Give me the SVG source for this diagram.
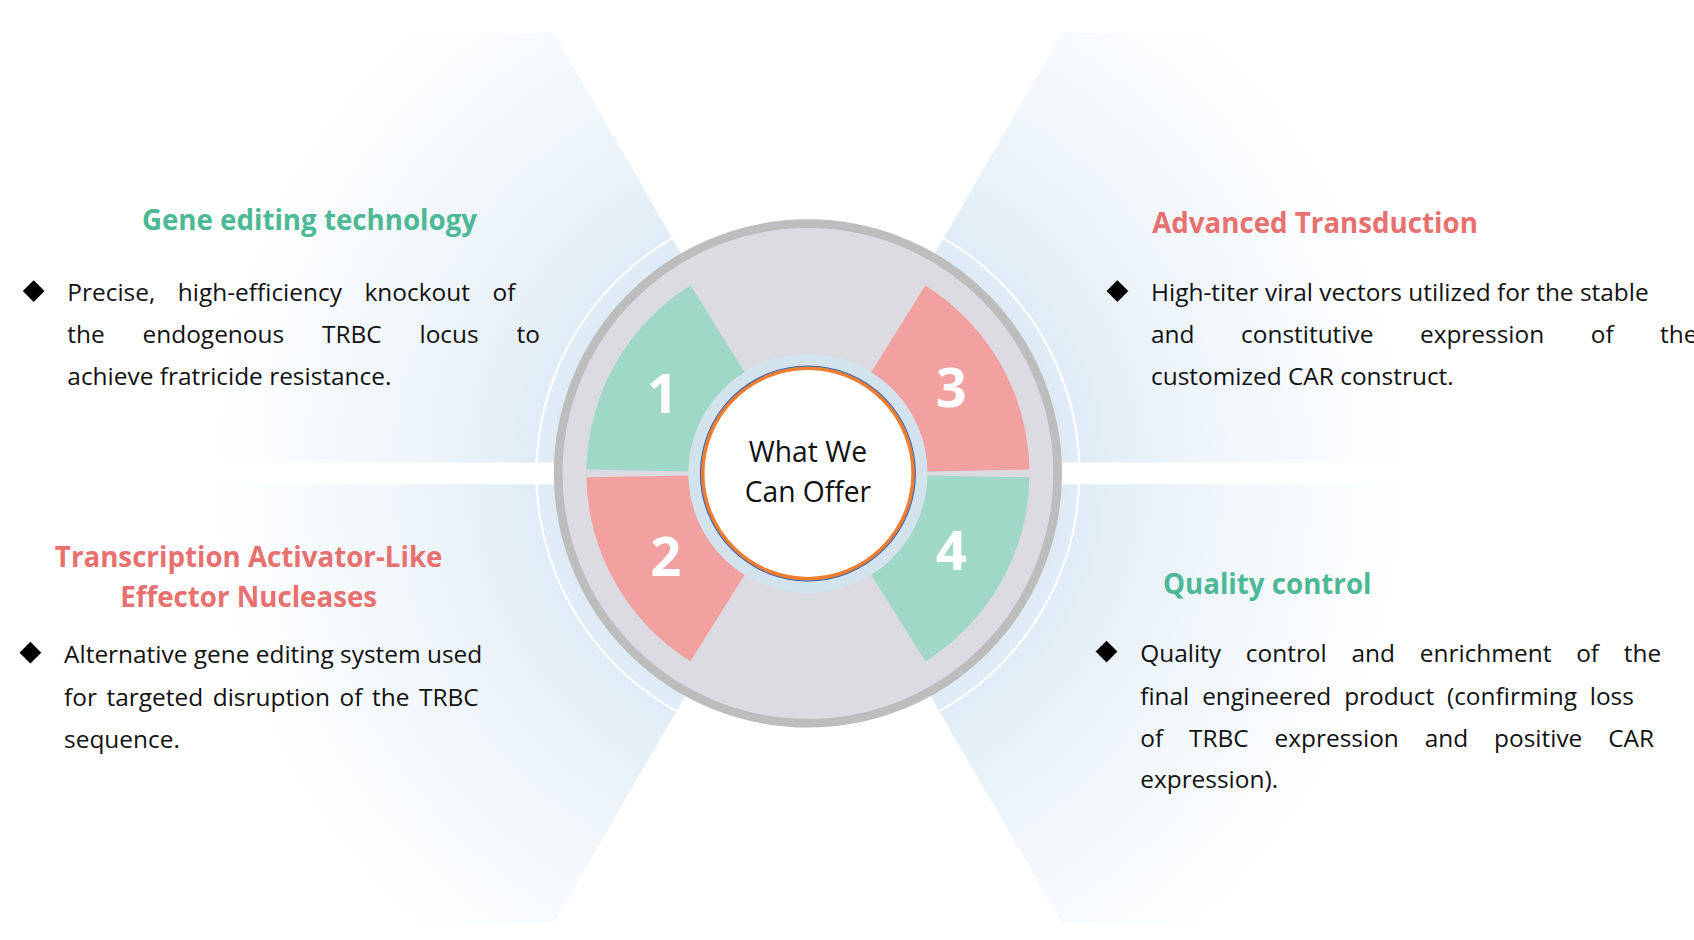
<svg xmlns="http://www.w3.org/2000/svg" width="1694" height="940" viewBox="0 0 1694 940">
<defs>
<radialGradient id="ray" gradientUnits="userSpaceOnUse" cx="744" cy="436" r="560">
<stop offset="0.3" stop-color="#d6e6f2"/>
<stop offset="0.65" stop-color="#eef5fa"/>
<stop offset="1" stop-color="#ffffff"/>
</radialGradient>
<style>
.h{font-family:"Open Sans","Liberation Sans",sans-serif;font-weight:bold;font-size:25.5px;text-anchor:middle}
.g{fill:#4db896}.p{fill:#e8706f}
.b{font-family:"Open Sans","Liberation Sans",sans-serif;font-size:22.5px;fill:#111}
.n{font-family:"Open Sans","Liberation Sans",sans-serif;font-weight:bold;font-size:50px;fill:#fff;text-anchor:middle}
.c{font-family:"Open Sans","Liberation Sans",sans-serif;font-size:26px;fill:#111;text-anchor:middle}
</style>
</defs>
<rect width="1694" height="940" fill="#fff"/>
<g transform="scale(1.0859)">
<g id="rays" fill="url(#ray)">
<polygon points="744,436 510,30 200,30 200,426 744,426"/>
<polygon points="744,446 200,446 200,850 510,850"/>
<polygon points="744,436 978,30 1290,30 1290,426 744,426"/>
<polygon points="744,446 1290,446 1290,850 978,850"/>
</g>
<circle cx="744" cy="436" r="250" fill="none" stroke="#fff" stroke-width="2"/>
<g id="wheel">
<circle cx="744" cy="436" r="230" fill="#dcdbe2" stroke="#bdbdbd" stroke-width="8"/>
<path id="s1" d="M540,432.4 A204 204 0 0 1 635.9,263 L685.7,342.7 A110 110 0 0 0 634,434.1 Z" fill="#9fd8c6"/>
<path id="s2" d="M540,439.6 L634,437.9 A110 110 0 0 0 685.7,529.3 L635.9,609 A204 204 0 0 1 540,439.6 Z" fill="#f2a0a0"/>
<path id="s3" d="M852.1,263 A204 204 0 0 1 948,432.4 L854,434.1 A110 110 0 0 0 802.3,342.7 Z" fill="#f2a0a0"/>
<path id="s4" d="M948,439.6 A204 204 0 0 1 852.1,609 L802.3,529.3 A110 110 0 0 0 854,437.9 Z" fill="#9fd8c6"/>
<text class="n" x="610" y="380">1</text>
<text class="n" x="613" y="530">2</text>
<text class="n" x="876" y="375">3</text>
<text class="n" x="876" y="525">4</text>
</g>
<g id="center">
<circle cx="744" cy="436" r="110" fill="#d3e3ee"/>
<circle cx="744" cy="436" r="97" fill="#fff" stroke="#ed7d31" stroke-width="3.5"/>
<circle cx="744" cy="436" r="99" fill="none" stroke="#3f5fa8" stroke-width="1"/>
<text class="c" x="744" y="425">What We</text>
<text class="c" x="744" y="462">Can Offer</text>
</g>
<g id="n1">
<text class="h g" x="285" y="212">Gene editing technology</text>
<polygon points="31,258 41,268 31,278 21,268" fill="#000"/>
<text class="b" x="62" y="277" word-spacing="15">Precise, high-efficiency knockout of</text>
<text class="b" x="62" y="316" word-spacing="29">the endogenous TRBC locus to</text>
<text class="b" x="62" y="355">achieve fratricide resistance.</text>
</g>
<g id="n2">
<text class="h p" x="229" y="522">Transcription Activator-Like</text>
<text class="h p" x="229" y="559">Effector Nucleases</text>
<polygon points="28,591 38,601 28,611 18,601" fill="#000"/>
<text class="b" x="59" y="611">Alternative gene editing system used</text>
<text class="b" x="59" y="650" word-spacing="3">for targeted disruption of the TRBC</text>
<text class="b" x="59" y="689">sequence.</text>
</g>
<g id="n3">
<text class="h p" x="1211" y="215">Advanced Transduction</text>
<polygon points="1029,258 1039,268 1029,278 1019,268" fill="#000"/>
<text class="b" x="1060" y="277">High-titer viral vectors utilized for the stable</text>
<text class="b" x="1060" y="316" word-spacing="37">and constitutive expression of the</text>
<text class="b" x="1060" y="355">customized CAR construct.</text>
</g>
<g id="n4">
<text class="h g" x="1167" y="547">Quality control</text>
<polygon points="1019,590 1029,600 1019,610 1009,600" fill="#000"/>
<text class="b" x="1050" y="610" word-spacing="17">Quality control and enrichment of the</text>
<text class="b" x="1050" y="649" word-spacing="6">final engineered product (confirming loss</text>
<text class="b" x="1050" y="688" word-spacing="18">of TRBC expression and positive CAR</text>
<text class="b" x="1050" y="726">expression).</text>
</g>
<g id="connectors"/>
</g>
</svg>
